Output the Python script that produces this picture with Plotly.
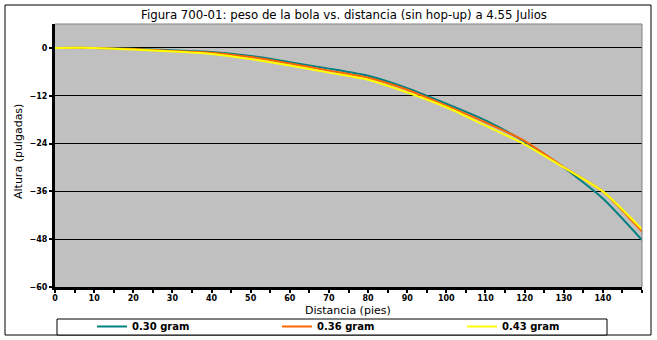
import plotly.graph_objects as go

# Trajectory of the BB (no hop-up) at 4.55 J for three ball weights
distancia = [0, 10, 20, 30, 40, 50, 60, 70, 80, 90, 100, 110, 120, 130, 140, 150]
altura_030 = [0, 0, -0.2, -0.6, -1.0, -2.0, -3.6, -5.2, -7.0, -10.1, -14.0, -18.2, -23.5, -30.0, -37.8, -48.2]
altura_036 = [0, 0, -0.3, -0.8, -1.2, -2.3, -3.9, -5.7, -7.5, -10.5, -14.5, -18.7, -23.3, -29.9, -36.0, -46.1]
altura_043 = [0, 0, -0.4, -0.9, -1.5, -2.8, -4.4, -6.2, -8.0, -11.2, -14.9, -19.5, -24.2, -30.0, -36.0, -45.5]

nombres = ["0.30 gram", "0.36 gram", "0.43 gram"]
colores = ["#008080", "#FF6600", "#FFFF00"]
series = [altura_030, altura_036, altura_043]

x_ticks = list(range(0, 150, 10))
y_ticks = [0, -12, -24, -36, -48, -60]

W, H = 657, 340
L, R, T, B = 55, 642, 24, 287  # plot area in pixels


def px_x(px):
    return (px - L) / (R - L)


def px_y(py):
    return (B - py) / (B - T)


fig = go.Figure()
for nombre, color, ys in zip(nombres, colores, series):
    fig.add_trace(go.Scatter(
        x=distancia, y=ys, name=nombre, mode="lines",
        line=dict(color=color, width=2, shape="spline", smoothing=0.6),
    ))

tick_font = dict(family="DejaVu Sans", size=8, color="black", weight="bold")
text_font = dict(family="DejaVu Sans", size=11, color="black")

fig.update_layout(
    width=W, height=H,
    margin=dict(l=L, r=W - R, t=T, b=H - B, autoexpand=False),
    paper_bgcolor="white",
    plot_bgcolor="#C0C0C0",
    showlegend=True,
    title=dict(
        text="Figura 700-01: peso de la bola vs. distancia (sin hop-up) a 4.55 Julios",
        x=344 / W, xref="container", xanchor="center",
        y=1 - 15 / H, yref="container", yanchor="middle",
        font=dict(family="DejaVu Sans", size=11.75, color="black"),
    ),
    legend=dict(
        orientation="h", x=px_x(92), y=px_y(312), xanchor="left", yanchor="top",
        xref="paper", yref="paper",
        bgcolor="rgba(0,0,0,0)", borderwidth=0,
        entrywidth=140, entrywidthmode="pixels",
        font=dict(family="DejaVu Sans", size=10, color="black", weight="bold"),
        traceorder="normal",
    ),
    xaxis=dict(
        range=[0, 150], tickmode="array", tickvals=x_ticks,
        ticks="outside", ticklen=3, tickwidth=2, tickcolor="black",
        ticklabelstandoff=-2,
        minor=dict(tickmode="linear", tick0=0, dtick=5, ticks="outside",
                   ticklen=3, tickwidth=2, tickcolor="black", showgrid=False),
        showgrid=False, zeroline=False,
        showline=True, linecolor="black", linewidth=3,
        tickfont=tick_font,
    ),
    yaxis=dict(
        range=[-60, 6], tickmode="array", tickvals=y_ticks,
        ticks="outside", ticklen=3, tickwidth=2, tickcolor="black",
        showgrid=True, gridcolor="black", gridwidth=1, zeroline=False,
        showline=True, linecolor="black", linewidth=3,
        tickfont=tick_font,
    ),
    shapes=[
        # outer chart frame
        dict(type="rect", xref="paper", yref="paper", layer="below",
             x0=px_x(5), x1=px_x(651), y0=px_y(335), y1=px_y(5),
             line=dict(color="black", width=1), fillcolor="rgba(0,0,0,0)"),
        # plot area border (top / right)
        dict(type="line", xref="paper", yref="paper", layer="above",
             x0=0, x1=1, y0=1, y1=1, line=dict(color="#808080", width=1)),
        dict(type="line", xref="paper", yref="paper", layer="above",
             x0=1, x1=1, y0=0, y1=1, line=dict(color="#808080", width=1)),
        # legend box
        dict(type="rect", xref="paper", yref="paper", layer="above",
             x0=px_x(57), x1=px_x(607), y0=px_y(335), y1=px_y(319),
             line=dict(color="black", width=1), fillcolor="white"),
    ],
    annotations=[
        dict(text="Distancia (pies)", xref="paper", yref="paper",
             x=px_x(348), y=px_y(310), xanchor="center", yanchor="middle",
             showarrow=False, font=text_font),
        dict(text="Altura (pulgadas)", xref="paper", yref="paper",
             x=px_x(18), y=px_y(152), xanchor="center", yanchor="middle",
             textangle=-90, showarrow=False, font=text_font),
    ],
)

fig.write_html("out.html")
